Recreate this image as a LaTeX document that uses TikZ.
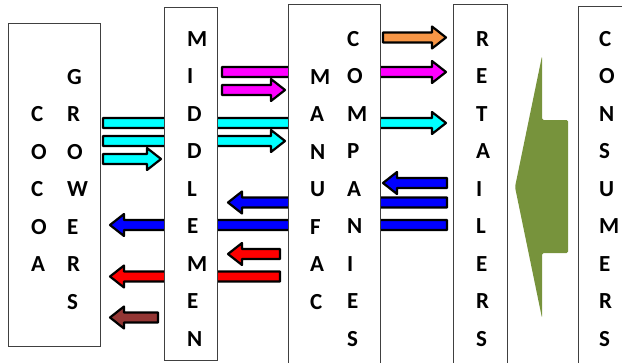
\documentclass[tikz,border=0pt]{standalone}
\usepackage{fontspec}
\setmainfont{Carlito}
\definecolor{arOrange}{HTML}{F79646}
\definecolor{arBrown}{HTML}{943634}
\definecolor{arGreen}{HTML}{77933C}
\definecolor{arCyan}{HTML}{00FFFF}
\definecolor{arMagenta}{HTML}{FF00FF}
\definecolor{arBlue}{HTML}{0000FF}
\definecolor{arRed}{HTML}{FF0000}
\definecolor{boxLine}{HTML}{404040}
\newcommand\rightfat[4]{%
  \draw[fatarrow,fill=#1] (#2,{#4-5}) -- ({#3-14},{#4-5}) -- ({#3-14},{#4-11}) -- (#3,#4)
    -- ({#3-14},{#4+11}) -- ({#3-14},{#4+5}) -- (#2,{#4+5}) -- cycle;}
\newcommand\leftfat[4]{%
  \draw[fatarrow,fill=#1] (#2,{#4-5}) -- ({#3+14},{#4-5}) -- ({#3+14},{#4-11}) -- (#3,#4)
    -- ({#3+14},{#4+11}) -- ({#3+14},{#4+5}) -- (#2,{#4+5}) -- cycle;}
\begin{document}
\begin{tikzpicture}[x=1pt,y=-1pt,
  fatarrow/.style={draw=black,line width=2.2pt,line join=round},
  box/.style={draw=boxLine,line width=1.1pt,fill=white,anchor=north west,inner sep=0pt},
  lbl/.style={font=\fontsize{23}{37.5}\selectfont\bfseries,align=left,inner sep=0pt,anchor=west,text=black}]
\useasboundingbox (0,0) rectangle (622,362);
% arrows (behind boxes)
\rightfat{arOrange}{383}{446}{37.5}
\rightfat{arMagenta}{222}{446}{72}
\rightfat{arMagenta}{222}{285}{90}
\rightfat{arCyan}{103}{446}{123}
\rightfat{arCyan}{103}{285}{141}
\rightfat{arCyan}{103}{161}{159}
\leftfat{arBlue}{447}{383}{183}
\leftfat{arBlue}{447}{228}{202.5}
\leftfat{arBlue}{447}{110}{225}
\leftfat{arRed}{280}{228}{254}
\leftfat{arRed}{280}{110}{276.5}
\leftfat{arBrown}{158}{110}{317.5}
% boxes
\node[box,minimum width=92pt,minimum height=323pt] (cocoa) at (8,23) {};
\node[box,minimum width=53pt,minimum height=353pt] (middle) at (164,7) {};
\node[box,minimum width=92pt,minimum height=370pt] (manuf) at (288,4) {};
\node[box,minimum width=54pt,minimum height=370pt] (retail) at (453,4) {};
\node[box,minimum width=60pt,minimum height=370pt] (consum) at (578,6) {};
% texts
\node[lbl] (tcocoa) at (31,189) {C\\O\\C\\O\\A};
\node[lbl] (tgrow) at (67,189.5) {G\\R\\O\\W\\E\\R\\S};
\node[lbl] (tmid) at (187,189) {M\\I\\D\\D\\L\\E\\M\\E\\N};
\node[lbl] (tmanuf) at (310,189.5) {M\\A\\N\\U\\F\\A\\C};
\node[lbl] (tcomp) at (347,189) {C\\O\\M\\P\\A\\N\\I\\E\\S};
\node[lbl] (tret) at (476,189) {R\\E\\T\\A\\I\\L\\E\\R\\S};
\node[lbl] (tcons) at (599,189) {C\\O\\N\\S\\U\\M\\E\\R\\S};
% big green arrow
\fill[arGreen,rounded corners=1.5pt] (542,56) -- (515,187) -- (542,318) -- (542,253) -- (568,253) -- (568,120) -- (542,120) -- cycle;
\end{tikzpicture}
\end{document}
